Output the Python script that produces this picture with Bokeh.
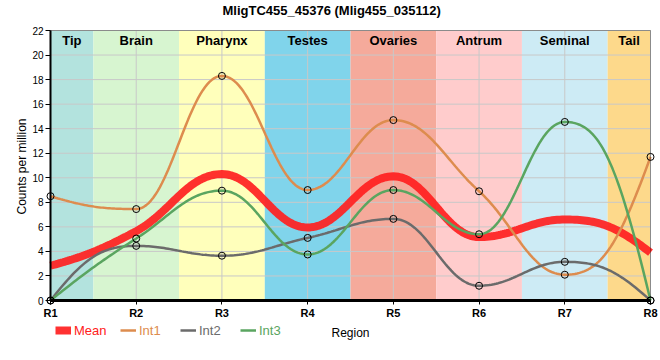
import numpy as np
from bokeh.plotting import figure
from bokeh.models import Range1d, FixedTicker, Legend, LegendItem, BoxAnnotation, Title
from bokeh.embed import file_html
from bokeh.resources import INLINE
from bokeh.core.properties import value

title = "MligTC455_45376 (Mlig455_035112)"
y_label = "Counts per million"
x_label = "Region"
regions = ["R1", "R2", "R3", "R4", "R5", "R6", "R7", "R8"]
tissues = ["Tip", "Brain", "Pharynx", "Testes", "Ovaries", "Antrum", "Seminal", "Tail"]
tissue_colors = ["#b3e3de", "#d7f5d0", "#ffffbb", "#80d4eb",
                 "#f5aa9b", "#ffcccc", "#cdebf5", "#fdd98b"]
int1 = [8.5, 7.45, 18.3, 9.0, 14.7, 8.9, 2.1, 11.7]
int2 = [0.0, 4.45, 3.65, 5.1, 6.65, 1.2, 3.15, 0.0]
int3 = [0.0, 5.05, 8.95, 3.75, 9.0, 5.4, 14.55, 0.0]
mean = list(np.mean([int1, int2, int3], axis=0))
y_ticks = list(range(0, 23, 2))

FONT = "Liberation Sans"
xpos = list(range(1, len(regions) + 1))
X0, X1 = xpos[0], xpos[-1]
Y0, Y1 = y_ticks[0], y_ticks[-1]

# layout (pixels)
PLOT_W, PLOT_H = 600, 270                   # data box
PAD_L, PAD_R, PAD_B, PAD_T = 22, 8, 52, 11  # room inside the frame around the data box
LEFT, TOP = 28, 19
ppx = PLOT_W / (X1 - X0)
ppy = PLOT_H / (Y1 - Y0)


def smooth(xv, yv, a=0.4, n=40):
    """Smooth monotone-style Bezier curve through the data points."""
    x = np.asarray(xv, float)
    y = np.asarray(yv, float)
    N = len(y)
    h = np.diff(x)
    s = np.diff(y) / h
    m = np.zeros(N)
    for i in range(1, N - 1):
        p = (s[i - 1] + s[i]) / 2
        m[i] = (np.sign(s[i - 1]) + np.sign(s[i])) * min(abs(s[i - 1]), abs(s[i]), 0.5 * abs(p))
    for e, nb, sl in ((0, 1, s[0]), (N - 1, N - 2, s[-1])):
        v = 2 * sl - m[nb]
        if np.sign(v) != np.sign(sl):
            v = 0.0
        if abs(v) > 3 * abs(sl):
            v = 3 * sl
        m[e] = v
    t = np.linspace(0, 1, n)
    b = [(1 - t) ** 3, 3 * (1 - t) ** 2 * t, 3 * (1 - t) * t ** 2, t ** 3]
    xs, ys = [], []
    for i in range(N - 1):
        hh = h[i]
        px = [x[i], x[i] + a * hh, x[i + 1] - a * hh, x[i + 1]]
        py = [y[i], y[i] + a * hh * m[i], y[i + 1] - a * hh * m[i + 1], y[i + 1]]
        cx = sum(bk * pk for bk, pk in zip(b, px))
        cy = sum(bk * pk for bk, pk in zip(b, py))
        if i > 0:
            cx, cy = cx[1:], cy[1:]
        xs.extend(cx)
        ys.extend(cy)
    return xs, ys


p = figure(frame_width=PLOT_W + PAD_L + PAD_R, frame_height=PLOT_H + PAD_B + PAD_T,
           x_range=Range1d(X0 - PAD_L / ppx, X1 + PAD_R / ppx),
           y_range=Range1d(Y0 - PAD_B / ppy, Y1 + PAD_T / ppy),
           output_backend="svg", toolbar_location=None,
           min_border_left=LEFT, min_border_right=0,
           min_border_top=TOP, min_border_bottom=0)
p.outline_line_color = None
p.background_fill_color = "white"
p.xgrid.visible = False
p.ygrid.visible = False

p.title.text = title
p.title.align = "left"
p.title.offset = 194
p.title.standoff = 0
p.title.vertical_align = "top"
p.title.text_font = FONT
p.title.text_font_size = "13px"
p.title.text_font_style = "bold"
p.title.text_color = "black"

# y axis label as a side title, centred on the data box
p.add_layout(Title(text=y_label, align="left", offset=138, standoff=0,
                   text_font=FONT, text_font_size="12px", text_font_style="normal",
                   text_color="black"), "left")

# background bands
lefts = [max(X0, xp - 0.5) for xp in xpos]
rights = [min(X1, xp + 0.5) for xp in xpos]
p.quad(left=lefts, right=rights, bottom=Y0, top=Y1, fill_color=tissue_colors,
       line_color=None, level="image")
p.text(x=[(l + r) / 2 for l, r in zip(lefts, rights)], y=[Y1] * len(tissues), text=tissues,
       text_align="center", text_baseline="top", y_offset=2,
       text_font=value(FONT), text_font_size="13px", text_font_style="bold",
       text_color="black")

# grid lines, limited to the data box
GRID = "#c8c8c8"
p.segment(x0=xpos, y0=[Y0] * len(xpos), x1=xpos, y1=[Y1] * len(xpos),
          line_color=GRID, line_width=1, level="underlay")
p.segment(x0=[X0] * len(y_ticks), y0=y_ticks, x1=[X1] * len(y_ticks), y1=y_ticks,
          line_color=GRID, line_width=1, level="underlay")

colors = {"Mean": "#ff2020", "Int1": "#dd8c4e", "Int2": "#6b6b6b", "Int3": "#5aa560"}

mx, my = smooth(xpos, mean)
r_mean = p.line(mx, my, line_width=8, color=colors["Mean"], alpha=0.92)
rs = {}
for name, data in (("Int1", int1), ("Int2", int2), ("Int3", int3)):
    sx, sy = smooth(xpos, data)
    rs[name] = p.line(sx, sy, line_width=2.5, color=colors[name])
for data in (int1, int2, int3):
    p.scatter(xpos, data, size=7, marker="circle", fill_color=None,
              line_color="black", line_width=1)

# border around the data box
p.add_layout(BoxAnnotation(left=X0, right=X1, bottom=Y0, top=Y1,
                           fill_alpha=0, line_color="black", line_width=1))

# x axis at y = 0
p.xaxis.fixed_location = Y0
p.xaxis.bounds = (X0, X1)
p.xaxis.ticker = FixedTicker(ticks=xpos)
p.xaxis.major_label_overrides = {xp: r for xp, r in zip(xpos, regions)}
p.xaxis.major_label_text_font = FONT
p.xaxis.major_label_text_font_size = "11px"
p.xaxis.major_label_text_font_style = "bold"
p.xaxis.major_label_text_color = "black"
p.xaxis.axis_line_width = 3
p.xaxis.axis_line_color = "black"
p.xaxis.major_tick_out = 4
p.xaxis.major_tick_in = 0
p.xaxis.minor_tick_line_color = None
p.xaxis.major_label_standoff = 2

p.text(x=[(X0 + X1) / 2], y=[Y0], text=[x_label], text_align="center",
       text_baseline="middle", y_offset=32, text_font=value(FONT),
       text_font_size="12px", text_color="black")

# y axis at x = R1
p.yaxis.fixed_location = X0
p.yaxis.bounds = (Y0, Y1)
p.yaxis.ticker = FixedTicker(ticks=y_ticks)
p.yaxis.major_label_text_font = FONT
p.yaxis.major_label_text_font_size = "10px"
p.yaxis.major_label_text_color = "black"
p.yaxis.axis_line_width = 2
p.yaxis.axis_line_color = "black"
p.yaxis.major_tick_out = 5
p.yaxis.major_tick_in = 0
p.yaxis.minor_tick_line_color = None
p.yaxis.major_label_standoff = 2

# legend: one per item so each label has its own colour
for name, rend, xoff in (("Mean", r_mean, 27), ("Int1", rs["Int1"], 92),
                         ("Int2", rs["Int2"], 152), ("Int3", rs["Int3"], 212)):
    lg = Legend(items=[LegendItem(label=name, renderers=[rend])],
                location=(xoff, 14), orientation="horizontal",
                glyph_width=16, glyph_height=16, label_standoff=3,
                padding=0, margin=0, spacing=0,
                border_line_color=None, background_fill_alpha=0,
                label_text_font=FONT, label_text_font_size="13px",
                label_text_color=colors[name], label_height=16)
    p.add_layout(lg, "center")

open("out.html", "w").write(file_html(p, INLINE))
